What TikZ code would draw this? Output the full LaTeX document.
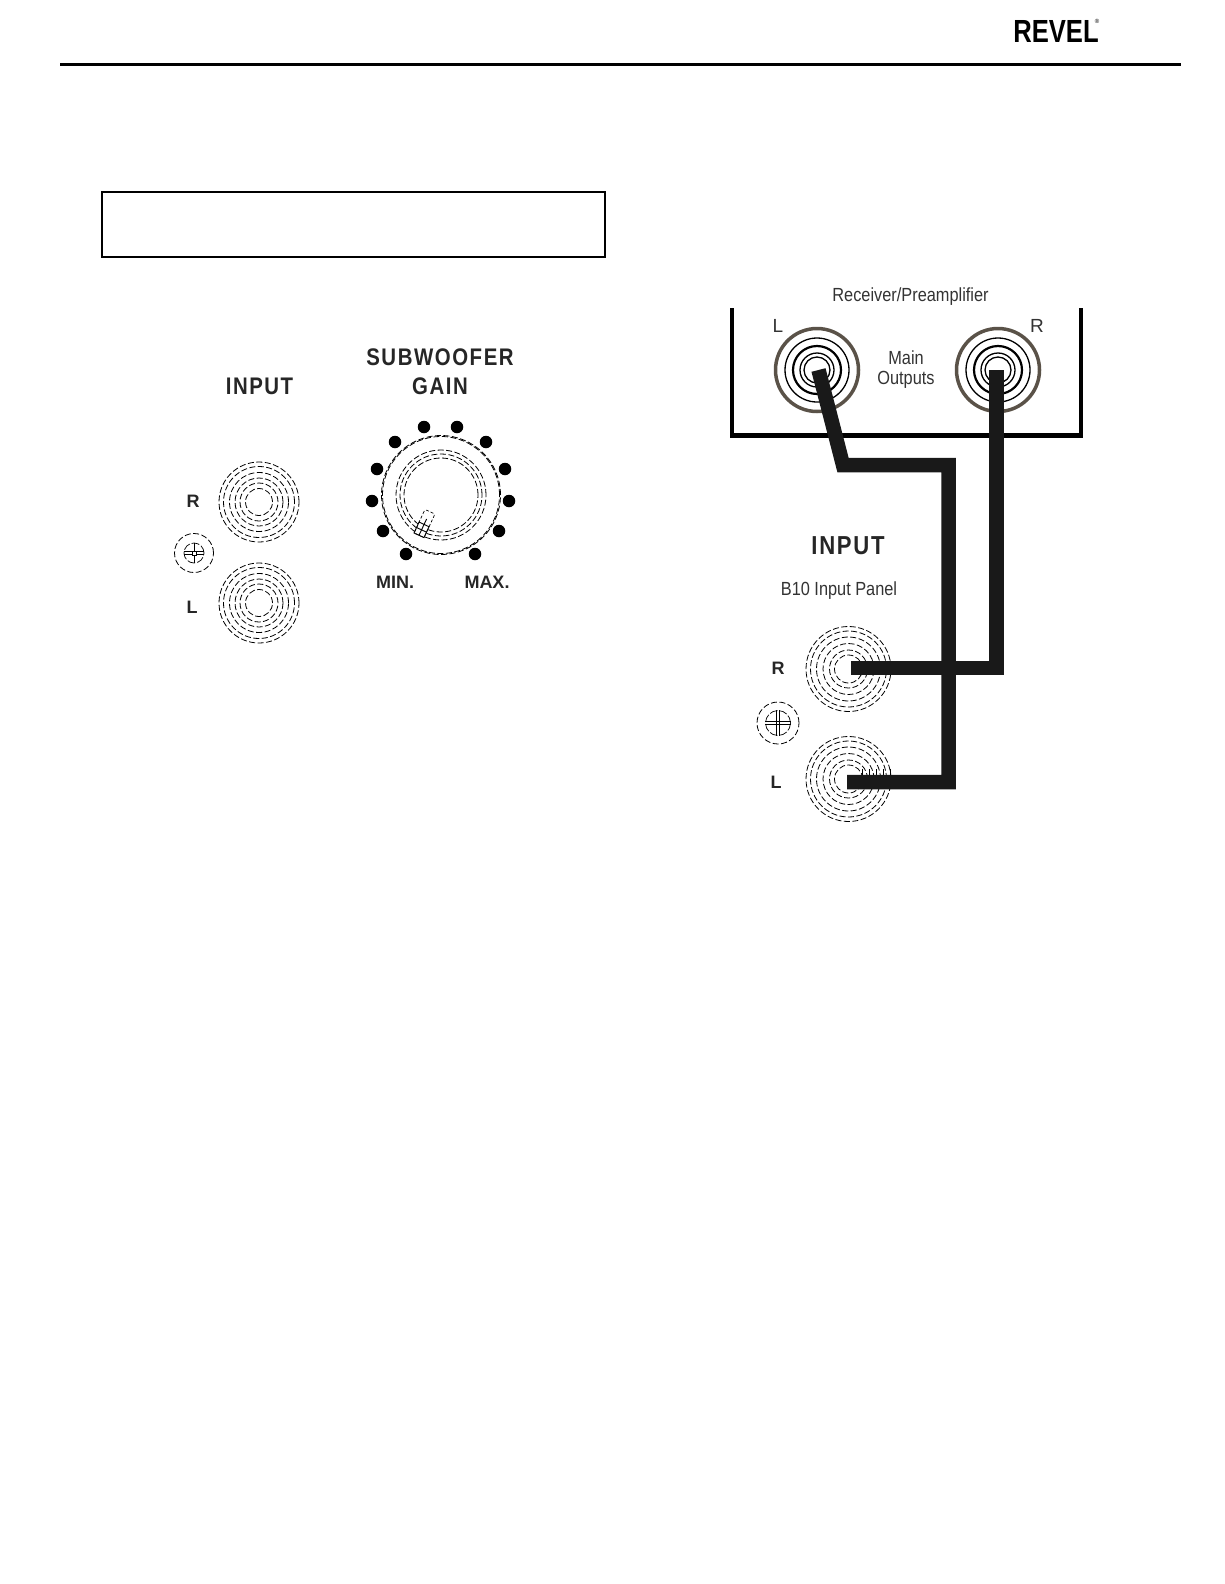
\documentclass[tikz,border=0pt]{standalone}
\usepackage{fontspec}
\setmainfont{Liberation Sans}
\newfontfamily\narrowfont[FakeStretch=0.86]{Liberation Sans}
\newfontfamily\headfont[FakeStretch=0.85,LetterSpace=6.5]{Liberation Sans}
\newfontfamily\logofont[FakeStretch=0.8]{Liberation Sans}
\usetikzlibrary{calc,positioning}
\definecolor{inkgray}{HTML}{333333}
\definecolor{rimgray}{HTML}{5A5248}
\tikzset{
    px/.style={x=1pt,y=-1pt},
    longdash/.style={dash pattern=on 6pt off 2.5pt},
    dashring/.style={circle,draw,longdash,line width=.8pt,inner sep=0pt,minimum size=#1},
    solidring/.style={circle,draw,line width=#1,inner sep=0pt},
    heading/.style={font=\headfont\fontsize{24}{24}\selectfont\bfseries,text=black!85,inner sep=0pt},
    jacktag/.style={font=\fontsize{18}{18}\selectfont\bfseries,text=black!85,inner sep=0pt},
    caption/.style={font=\narrowfont\fontsize{19}{20}\selectfont,text=inkgray,inner sep=0pt,align=center},
    sidetag/.style={font=\fontsize{19}{19}\selectfont,text=inkgray,inner sep=0pt},
    cable/.style={line width=14.5pt,black!90,line cap=butt,line join=miter},
    gaindot/.style={circle,fill=black,inner sep=0pt,minimum size=12.5pt},
    screwin/.style={circle,draw,dash pattern=on 8pt off 2pt,line width=.7pt,inner sep=0pt,minimum size=#1},
}
\begin{document}
\begin{tikzpicture}[px]
    \useasboundingbox (0,0) rectangle (1224,1584);

    % page header
    \node[inner sep=0pt,font=\logofont\fontsize{32}{32}\selectfont\bfseries] (revel) at (1056,31) {REVEL};
    \node[inner sep=0pt,font=\fontsize{6}{6}\selectfont] (regmark) at (1097,21) {\textregistered};
    \coordinate (ruleA) at (60,64.5);
    \coordinate (ruleB) at (1181,64.5);
    \draw[line width=3pt] (ruleA) -- (ruleB);
    \node[draw,line width=2pt,minimum width=503pt,minimum height=65pt,inner sep=0pt] (notebox) at (353,224) {};

    % input panel, left
    \node[heading] (inputA) at (259.5,386) {INPUT};
    \coordinate (jackRA) at (259,502);
    \coordinate (jackLA) at (259,603);
    \foreach \c in {jackRA,jackLA}
        \foreach \d in {80,71,59,48,38,27}
            \node[dashring=\d pt] (\c-\d) at (\c) {};
    \node[jacktag] (tagRA) at (193,501) {R};
    \node[jacktag] (tagLA) at (192,607) {L};
    \node[dashring=39pt] (screwA) at (194,553) {};
    \node[screwin=20pt] (screwAin) at (screwA) {};
    \draw[line width=.7pt] (screwAin.north) -- (screwAin.south);
    \foreach \o in {-1.5,1.5}
        \draw[line width=.7pt] ($(screwAin.west)+(0,\o)$) -- ($(screwAin.east)+(0,\o)$);
    \node[draw,line width=.7pt,inner sep=0pt,minimum size=4pt,fill=white] (screwAsq) at (screwA) {};

    % gain knob
    \node[heading] (subw) at (440,357) {SUBWOOFER};
    \node[heading] (gain) at (440,386) {GAIN};
    \coordinate (knob) at (441,495);
    \foreach \d in {119,117,90,82,74}
        \node[dashring=\d pt] (knob-\d) at (knob) {};
    \foreach \x/\y [count=\i] in {424/427,457/427,395/442,486/442,377/469,505/469,372/501,509/501,383/531,499/531,406/554,475/554}
        \node[gaindot] (dot\i) at (\x,\y) {};
    \begin{scope}[shift={(424.5,523.5)},rotate=-25]
        \draw[fill=white,line width=.7pt,densely dashed,rounded corners=2pt] (-5.5,-13) rectangle (5.5,13);
        \draw[line width=.9pt] (-5.5,1) -- (5.5,1) -- (5.5,13) -- (-5.5,13) -- cycle (0,-5) -- (0,13) (-5.5,7) -- (5.5,7);
    \end{scope}
    \node[jacktag] (minlbl) at (395,582) {MIN.};
    \node[jacktag] (maxlbl) at (487,582) {MAX.};

    % receiver
    \node[caption] (recv) at (910.5,297) {Receiver/Preamplifier};
    \coordinate (recvTL) at (732,308);
    \coordinate (recvBL) at (732,435.5);
    \coordinate (recvBR) at (1081,435.5);
    \coordinate (recvTR) at (1081,308);
    \draw[line width=4.5pt] (recvTL) -- (recvBL) -- (recvBR) -- (recvTR);
    \coordinate (outL) at (817,370);
    \coordinate (outR) at (998,370);
    \foreach \c in {outL,outR} {
        \node[solidring=3.5pt,draw=rimgray,minimum size=83pt] (\c-rim) at (\c) {};
        \foreach \d/\w in {64/1.3,48/2.2,34/1.3,26/1.3}
            \node[solidring=\w pt,minimum size=\d pt] (\c-\d) at (\c) {};
    }
    \node[sidetag] (tagLB) at (778,326) {L};
    \node[sidetag] (tagRB) at (1037,326) {R};
    \node[caption] (mainout) at (906,369.5) {Main\\Outputs};

    % input panel, right
    \node[heading,font=\headfont\fontsize{26}{26}\selectfont\bfseries] (inputB) at (848,546) {INPUT};
    \node[caption] (b10) at (839,591) {B10 Input Panel};
    \coordinate (jackRB) at (848.5,669);
    \coordinate (jackLB) at (848.5,779);
    \foreach \c in {jackRB,jackLB}
        \foreach \d in {85,76,64,51,38,28}
            \node[dashring=\d pt] (\c-\d) at (\c) {};
    \node[jacktag] (tagRC) at (778,668) {R};
    \node[jacktag] (tagLC) at (776,782) {L};
    \node[dashring=42pt] (screwB) at (778,723) {};
    \node[screwin=25pt] (screwBin) at (screwB) {};
    \foreach \o in {-1.5,1.5} {
        \draw[line width=.7pt] ($(screwBin.north)+(\o,0)$) -- ($(screwBin.south)+(\o,0)$);
        \draw[line width=.7pt] ($(screwBin.west)+(0,\o)$) -- ($(screwBin.east)+(0,\o)$);
    }
    \foreach \x in {862,869,876,883,890}
        \draw[line width=.8pt] (\x,769) -- (\x,776);

    % cables
    \coordinate (bendA) at (843,465);
    \coordinate (bendB) at (948.5,465);
    \coordinate (bendC) at (948.5,782);
    \coordinate (bendD) at (996.5,668);
    \coordinate (plugRtop) at (996.5,370);
    \coordinate (plugLtop) at (818.5,370);
    \coordinate (plugRin) at (851,668);
    \coordinate (plugLin) at (847,782);
    \draw[cable] (plugLtop) -- (bendA) -- (bendB) -- (bendC) -- (plugLin);
    \draw[cable] (plugRtop) -- (bendD) -- (plugRin);
\end{tikzpicture}
\end{document}
